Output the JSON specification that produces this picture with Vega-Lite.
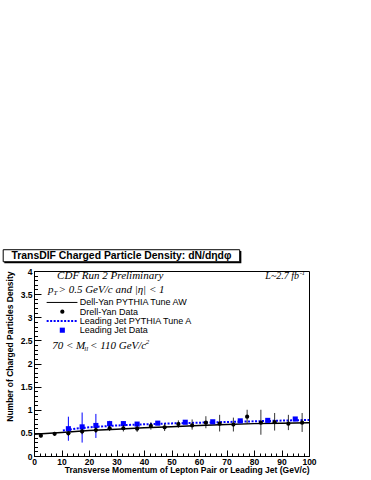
{
  "$schema": "https://vega.github.io/schema/vega-lite/v6.json",
  "width": 275,
  "height": 185,
  "autosize": "none",
  "padding": {"left": 34, "top": 271, "right": 62, "bottom": 24},
  "background": "white",
  "config": {
    "view": {"stroke": "black", "strokeWidth": 1},
    "axis": {
      "domainColor": "black", "tickColor": "black", "labelColor": "black", "titleColor": "black",
      "labelFont": "Liberation Sans", "labelFontWeight": "bold", "labelFontSize": 8.5,
      "titleFont": "Liberation Sans", "titleFontWeight": "bold", "titleFontSize": 8.5,
      "grid": false
    }
  },
  "datasets": {
    "dy": [
      {"pt": 2.5, "d": 0.44, "lo": 0.40, "hi": 0.48},
      {"pt": 7.5, "d": 0.48, "lo": 0.44, "hi": 0.52},
      {"pt": 12.5, "d": 0.49, "lo": 0.44, "hi": 0.54},
      {"pt": 17.5, "d": 0.53, "lo": 0.47, "hi": 0.59},
      {"pt": 22.5, "d": 0.56, "lo": 0.50, "hi": 0.62},
      {"pt": 27.5, "d": 0.60, "lo": 0.54, "hi": 0.66},
      {"pt": 32.5, "d": 0.60, "lo": 0.53, "hi": 0.67},
      {"pt": 37.5, "d": 0.59, "lo": 0.52, "hi": 0.66},
      {"pt": 42.5, "d": 0.65, "lo": 0.57, "hi": 0.73},
      {"pt": 47.5, "d": 0.62, "lo": 0.54, "hi": 0.70},
      {"pt": 52.5, "d": 0.69, "lo": 0.61, "hi": 0.77},
      {"pt": 57.5, "d": 0.66, "lo": 0.57, "hi": 0.79},
      {"pt": 62.5, "d": 0.72, "lo": 0.60, "hi": 0.86},
      {"pt": 67.5, "d": 0.70, "lo": 0.53, "hi": 0.89},
      {"pt": 72.5, "d": 0.68, "lo": 0.53, "hi": 0.83},
      {"pt": 77.5, "d": 0.85, "lo": 0.70, "hi": 1.0},
      {"pt": 82.5, "d": 0.72, "lo": 0.46, "hi": 1.0},
      {"pt": 87.5, "d": 0.73, "lo": 0.55, "hi": 0.93},
      {"pt": 92.5, "d": 0.70, "lo": 0.56, "hi": 0.89},
      {"pt": 97.5, "d": 0.72, "lo": 0.52, "hi": 0.93}
    ],
    "lj": [
      {"pt": 12.5, "d": 0.59, "lo": 0.33, "hi": 0.85},
      {"pt": 17.5, "d": 0.63, "lo": 0.29, "hi": 0.94},
      {"pt": 22.5, "d": 0.66, "lo": 0.39, "hi": 0.91},
      {"pt": 27.5, "d": 0.70, "lo": 0.64, "hi": 0.76},
      {"pt": 32.5, "d": 0.70, "lo": 0.65, "hi": 0.75},
      {"pt": 37.5, "d": 0.69, "lo": 0.65, "hi": 0.73},
      {"pt": 45, "d": 0.71, "lo": 0.68, "hi": 0.74},
      {"pt": 55, "d": 0.73, "lo": 0.70, "hi": 0.76},
      {"pt": 65, "d": 0.74, "lo": 0.71, "hi": 0.77},
      {"pt": 75, "d": 0.76, "lo": 0.73, "hi": 0.79},
      {"pt": 85, "d": 0.77, "lo": 0.74, "hi": 0.80},
      {"pt": 95, "d": 0.80, "lo": 0.77, "hi": 0.83}
    ],
    "dyline": [
      {"pt": 0, "d": 0.47}, {"pt": 10, "d": 0.51}, {"pt": 20, "d": 0.55}, {"pt": 30, "d": 0.58},
      {"pt": 40, "d": 0.61}, {"pt": 50, "d": 0.635}, {"pt": 60, "d": 0.66}, {"pt": 70, "d": 0.68},
      {"pt": 80, "d": 0.70}, {"pt": 90, "d": 0.71}, {"pt": 100, "d": 0.72}
    ],
    "ljline": [
      {"pt": 10.5, "d": 0.55}, {"pt": 15, "d": 0.59}, {"pt": 20, "d": 0.62}, {"pt": 30, "d": 0.66},
      {"pt": 40, "d": 0.685}, {"pt": 50, "d": 0.705}, {"pt": 60, "d": 0.72}, {"pt": 70, "d": 0.735},
      {"pt": 80, "d": 0.75}, {"pt": 90, "d": 0.765}, {"pt": 100, "d": 0.78}
    ]
  },
  "layer": [
    {
      "data": {"name": "dyline"},
      "mark": {"type": "line", "color": "black", "strokeWidth": 1.5, "clip": true},
      "encoding": {
        "x": {"field": "pt", "type": "quantitative",
          "scale": {"domain": [0, 100], "nice": false, "zero": false},
          "axis": {
            "title": "Transverse Momentum of Lepton Pair or Leading Jet (GeV/c)",
            "titleAnchor": "end", "titlePadding": -3,
            "tickCount": 500,
            "values": [0,2,4,6,8,10,12,14,16,18,20,22,24,26,28,30,32,34,36,38,40,42,44,46,48,50,52,54,56,58,60,62,64,66,68,70,72,74,76,78,80,82,84,86,88,90,92,94,96,98,100],
            "labelExpr": "datum.value % 10 === 0 ? format(datum.value, 'd') : ''",
            "tickSize": {"condition": {"test": "datum.value % 10 === 0", "value": -6}, "value": -3},
            "labelPadding": 7, "labelFlush": false, "labelOverlap": false
          }},
        "y": {"field": "d", "type": "quantitative",
          "scale": {"domain": [0, 4], "nice": false, "zero": false},
          "axis": {
            "title": "Number of Charged Particles Density",
            "titleAnchor": "end", "titlePadding": 6,
            "tickCount": 500,
            "values": [0,0.1,0.2,0.3,0.4,0.5,0.6,0.7,0.8,0.9,1,1.1,1.2,1.3,1.4,1.5,1.6,1.7,1.8,1.9,2,2.1,2.2,2.3,2.4,2.5,2.6,2.7,2.8,2.9,3,3.1,3.2,3.3,3.4,3.5,3.6,3.7,3.8,3.9,4],
            "labelExpr": "round(datum.value*10) % 5 === 0 ? format(datum.value, '~g') : ''",
            "tickSize": {"condition": {"test": "round(datum.value*10) % 5 === 0", "value": -7}, "value": -3.5},
            "labelPadding": 9, "labelFlush": false, "labelOverlap": false
          }}
      }
    },
    {
      "data": {"name": "ljline"},
      "mark": {"type": "line", "color": "#0000ff", "strokeWidth": 2, "strokeDash": [2, 1.5]},
      "encoding": {
        "x": {"field": "pt", "type": "quantitative"},
        "y": {"field": "d", "type": "quantitative"}
      }
    },
    {
      "data": {"name": "lj"},
      "mark": {"type": "rule", "color": "#0000ff", "strokeWidth": 1},
      "encoding": {
        "x": {"field": "pt", "type": "quantitative"},
        "y": {"field": "lo", "type": "quantitative"},
        "y2": {"field": "hi"}
      }
    },
    {
      "data": {"name": "lj"},
      "mark": {"type": "square", "color": "#0000ff", "filled": true, "opacity": 1, "size": 26},
      "encoding": {
        "x": {"field": "pt", "type": "quantitative"},
        "y": {"field": "d", "type": "quantitative"}
      }
    },
    {
      "data": {"name": "dy"},
      "mark": {"type": "rule", "color": "black", "strokeWidth": 0.8},
      "encoding": {
        "x": {"field": "pt", "type": "quantitative"},
        "y": {"field": "lo", "type": "quantitative"},
        "y2": {"field": "hi"}
      }
    },
    {
      "data": {"name": "dy"},
      "mark": {"type": "circle", "color": "black", "opacity": 1, "size": 18},
      "encoding": {
        "x": {"field": "pt", "type": "quantitative"},
        "y": {"field": "d", "type": "quantitative"}
      }
    },
    {
      "data": {"values": [{}]},
      "layer": [
        {"mark": {"type": "rect", "fill": "black"},
         "encoding": {"x": {"datum": -10.8, "type": "quantitative"}, "x2": {"datum": 75.4},
                      "y": {"datum": 4.43, "type": "quantitative"}, "y2": {"datum": 4.17}}},
        {"mark": {"type": "rect", "fill": "white", "stroke": "black", "strokeWidth": 1},
         "encoding": {"x": {"datum": -11.2, "type": "quantitative"}, "x2": {"datum": 74.8},
                      "y": {"datum": 4.46, "type": "quantitative"}, "y2": {"datum": 4.20}}},
        {"mark": {"type": "text", "text": "TransDIF Charged Particle Density: dN/dηdφ", "font": "Liberation Sans", "fontWeight": "bold", "fontSize": 10.4, "align": "center", "baseline": "middle", "color": "black"},
         "encoding": {"x": {"datum": 31.8, "type": "quantitative"}, "y": {"datum": 4.33, "type": "quantitative"}}},
        {"mark": {"type": "text", "text": "CDF Run 2 Preliminary", "font": "Liberation Serif", "fontStyle": "italic", "fontSize": 11, "align": "left", "baseline": "middle", "color": "black"},
         "encoding": {"x": {"datum": 8.4, "type": "quantitative"}, "y": {"datum": 3.89, "type": "quantitative"}}},
        {"mark": {"type": "text", "text": "L~2.7 fb", "font": "Liberation Serif", "fontStyle": "italic", "fontSize": 10, "align": "right", "baseline": "middle", "color": "black"},
         "encoding": {"x": {"datum": 96.4, "type": "quantitative"}, "y": {"datum": 3.89, "type": "quantitative"}}},
        {"mark": {"type": "text", "text": "-1", "font": "Liberation Serif", "fontStyle": "italic", "fontSize": 6.5, "align": "left", "baseline": "middle", "color": "black"},
         "encoding": {"x": {"datum": 96.6, "type": "quantitative"}, "y": {"datum": 3.96, "type": "quantitative"}}},
        {"mark": {"type": "text", "text": "p", "font": "Liberation Serif", "fontStyle": "italic", "fontSize": 11, "align": "left", "baseline": "middle", "color": "black"},
         "encoding": {"x": {"datum": 5.1, "type": "quantitative"}, "y": {"datum": 3.58, "type": "quantitative"}}},
        {"mark": {"type": "text", "text": "T", "font": "Liberation Serif", "fontStyle": "italic", "fontSize": 7, "align": "left", "baseline": "middle", "color": "black"},
         "encoding": {"x": {"datum": 7.1, "type": "quantitative"}, "y": {"datum": 3.52, "type": "quantitative"}}},
        {"mark": {"type": "text", "text": "> 0.5  GeV/c and |η| < 1", "font": "Liberation Serif", "fontStyle": "italic", "fontSize": 11, "align": "left", "baseline": "middle", "color": "black"},
         "encoding": {"x": {"datum": 8.9, "type": "quantitative"}, "y": {"datum": 3.58, "type": "quantitative"}}},
        {"mark": {"type": "text", "text": "70 < M", "font": "Liberation Serif", "fontStyle": "italic", "fontSize": 11, "align": "left", "baseline": "middle", "color": "black"},
         "encoding": {"x": {"datum": 6.6, "type": "quantitative"}, "y": {"datum": 2.38, "type": "quantitative"}}},
        {"mark": {"type": "text", "text": "ll", "font": "Liberation Serif", "fontStyle": "italic", "fontSize": 7, "align": "left", "baseline": "middle", "color": "black"},
         "encoding": {"x": {"datum": 18.3, "type": "quantitative"}, "y": {"datum": 2.31, "type": "quantitative"}}},
        {"mark": {"type": "text", "text": "< 110 GeV/c", "font": "Liberation Serif", "fontStyle": "italic", "fontSize": 11, "align": "left", "baseline": "middle", "color": "black"},
         "encoding": {"x": {"datum": 20.4, "type": "quantitative"}, "y": {"datum": 2.38, "type": "quantitative"}}},
        {"mark": {"type": "text", "text": "2", "font": "Liberation Serif", "fontStyle": "italic", "fontSize": 7, "align": "left", "baseline": "middle", "color": "black"},
         "encoding": {"x": {"datum": 40.6, "type": "quantitative"}, "y": {"datum": 2.46, "type": "quantitative"}}},
        {"mark": {"type": "rule", "color": "black", "strokeWidth": 1},
         "encoding": {"x": {"datum": 4.6, "type": "quantitative"}, "x2": {"datum": 15.8}, "y": {"datum": 3.32, "type": "quantitative"}}},
        {"mark": {"type": "circle", "color": "black", "opacity": 1, "size": 18},
         "encoding": {"x": {"datum": 10.3, "type": "quantitative"}, "y": {"datum": 3.12, "type": "quantitative"}}},
        {"mark": {"type": "rule", "color": "#0000ff", "strokeWidth": 2, "strokeDash": [2, 1.5]},
         "encoding": {"x": {"datum": 4.6, "type": "quantitative"}, "x2": {"datum": 15.8}, "y": {"datum": 2.92, "type": "quantitative"}}},
        {"mark": {"type": "square", "color": "#0000ff", "filled": true, "opacity": 1, "size": 26},
         "encoding": {"x": {"datum": 10.3, "type": "quantitative"}, "y": {"datum": 2.72, "type": "quantitative"}}},
        {"mark": {"type": "text", "text": "Dell-Yan PYTHIA Tune AW", "font": "Liberation Sans", "fontSize": 9, "align": "left", "baseline": "middle", "color": "black"},
         "encoding": {"x": {"datum": 16.6, "type": "quantitative"}, "y": {"datum": 3.32, "type": "quantitative"}}},
        {"mark": {"type": "text", "text": "Drell-Yan Data", "font": "Liberation Sans", "fontSize": 9, "align": "left", "baseline": "middle", "color": "black"},
         "encoding": {"x": {"datum": 16.6, "type": "quantitative"}, "y": {"datum": 3.12, "type": "quantitative"}}},
        {"mark": {"type": "text", "text": "Leading Jet PYTHIA Tune A", "font": "Liberation Sans", "fontSize": 9, "align": "left", "baseline": "middle", "color": "black"},
         "encoding": {"x": {"datum": 16.6, "type": "quantitative"}, "y": {"datum": 2.92, "type": "quantitative"}}},
        {"mark": {"type": "text", "text": "Leading Jet Data", "font": "Liberation Sans", "fontSize": 9, "align": "left", "baseline": "middle", "color": "black"},
         "encoding": {"x": {"datum": 16.6, "type": "quantitative"}, "y": {"datum": 2.72, "type": "quantitative"}}}
      ]
    }
  ]
}
